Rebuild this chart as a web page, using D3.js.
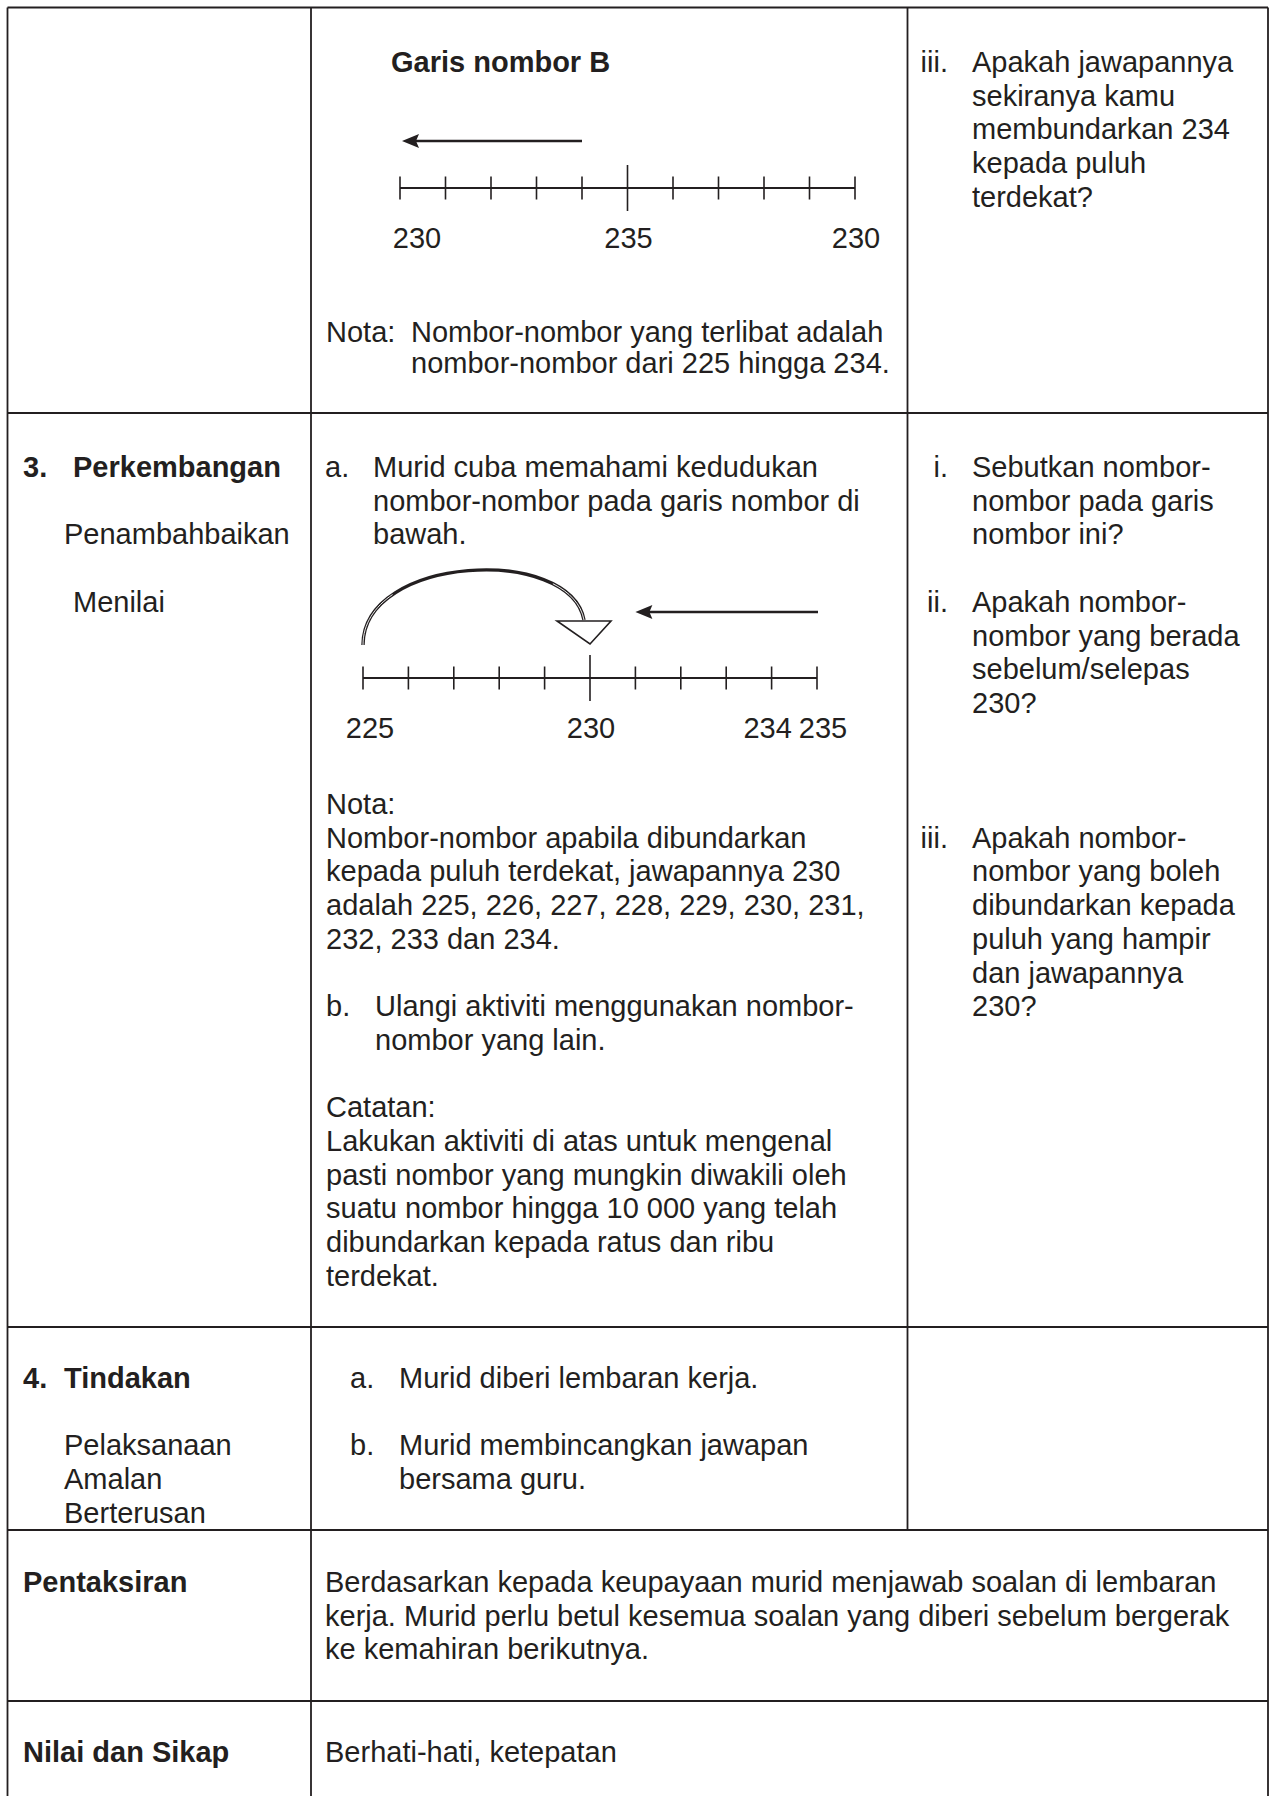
<!DOCTYPE html>
<html>
<head>
<meta charset="utf-8">
<script src="https://cdn.jsdelivr.net/npm/d3@7"></script>
<style>
  html, body { margin: 0; padding: 0; background: #ffffff; }
  svg { display: block; }
</style>
</head>
<body>
<div id="chart"></div>
<script>
// ---------------- DATA ----------------
// Number line B (row 1): 11 positions, labelled 230 / 235 / 230 as in the source
const ticksB = [0, 1, 2, 3, 4, 5, 6, 7, 8, 9, 10];
const majorB = [5];
const labelsB = [{ v: 0, t: "230" }, { v: 5, t: "235" }, { v: 10, t: "230" }];
const arrowB = [4, 0];            // arrow from position 4 to 0

// Number line A (row 3): 225 .. 235
const ticksA = [225, 226, 227, 228, 229, 230, 231, 232, 233, 234, 235];
const majorA = [230];
const labelsA = [{ v: 225, t: "225" }, { v: 230, t: "230" }, { v: 234, t: "234" }, { v: 235, t: "235" }];
const arrowA = [235, 231];        // straight arrow from 235 towards 231
const jumpA = [225, 230];         // curved jump from 225 to 230

// Texts
const r1Title = ["Garis nombor B"];
const r1NotaLabel = "Nota:";
const r1Nota = ["Nombor-nombor yang terlibat adalah", "nombor-nombor dari 225 hingga 234."];
const r1Q = { n: "iii.", lines: ["Apakah jawapannya", "sekiranya kamu", "membundarkan 234", "kepada puluh", "terdekat?"] };

const r3Head = { n: "3.", t: "Perkembangan" };
const r3Sub = ["Penambahbaikan", "Menilai"];
const r3A = { n: "a.", lines: ["Murid cuba memahami kedudukan", "nombor-nombor pada garis nombor di", "bawah."] };
const r3Nota = ["Nota:", "Nombor-nombor apabila dibundarkan", "kepada puluh terdekat, jawapannya 230",
                "adalah 225, 226, 227, 228, 229, 230, 231,", "232, 233 dan 234."];
const r3B = { n: "b.", lines: ["Ulangi aktiviti menggunakan nombor-", "nombor yang lain."] };
const r3Catatan = ["Catatan:", "Lakukan aktiviti di atas untuk mengenal", "pasti nombor yang mungkin diwakili oleh",
                   "suatu nombor hingga 10 000 yang telah", "dibundarkan kepada ratus dan ribu", "terdekat."];
const r3Qs = [
  { n: "i.", lines: ["Sebutkan nombor-", "nombor pada garis", "nombor ini?"] },
  { n: "ii.", lines: ["Apakah nombor-", "nombor yang berada", "sebelum/selepas", "230?"] },
  { n: "iii.", lines: ["Apakah nombor-", "nombor yang boleh", "dibundarkan kepada", "puluh yang hampir", "dan jawapannya", "230?"] }
];

const r4Head = { n: "4.", t: "Tindakan" };
const r4Sub = ["Pelaksanaan", "Amalan", "Berterusan"];
const r4Items = [
  { n: "a.", lines: ["Murid diberi lembaran kerja."] },
  { n: "b.", lines: ["Murid membincangkan jawapan", "bersama guru."] }
];
const r5Head = "Pentaksiran";
const r5Text = ["Berdasarkan kepada keupayaan murid menjawab soalan di lembaran",
                "kerja. Murid perlu betul kesemua soalan yang diberi sebelum bergerak",
                "ke kemahiran berikutnya."];
const r6Head = "Nilai dan Sikap";
const r6Text = ["Berhati-hati, ketepatan"];

// ---------------- LAYOUT ----------------
const W = 1271, H = 1796;
const INK = "#231f20";
const FONT = '"Liberation Sans", Arial, sans-serif';
const FS = 29;
const L = 33.7;

const svg = d3.select("#chart").append("svg")
  .attr("width", W).attr("height", H)
  .attr("viewBox", `0 0 ${W} ${H}`);
svg.append("rect").attr("width", W).attr("height", H).attr("fill", "#fff");

// table grid
const colX = { left: 7.5, c1: 311, c2: 907.5, right: 1268 };
const rowY = [7.5, 413, 1327, 1530, 1701];
const grid = svg.append("g").attr("stroke", INK).attr("fill", "none");
const hLines = rowY.map(y => [colX.left, colX.right, y]);
grid.selectAll("line.h").data(hLines).join("line").attr("class", "h")
  .attr("x1", d => d[0]).attr("x2", d => d[1]).attr("y1", d => d[2]).attr("y2", d => d[2])
  .attr("stroke-width", 2.2);
const vLines = [
  [colX.left, rowY[0], H], [colX.c1, rowY[0], H], [colX.c2, rowY[0], rowY[3]], [colX.right, rowY[0], H]
];
grid.selectAll("line.v").data(vLines).join("line").attr("class", "v")
  .attr("x1", d => d[0]).attr("x2", d => d[0]).attr("y1", d => d[1]).attr("y2", d => d[2])
  .attr("stroke-width", 1.8);

// text helpers
const tg = svg.append("g").attr("font-family", FONT).attr("font-size", FS).attr("fill", INK);
function txt(x, y, t, opt = {}) {
  return tg.append("text").attr("x", x).attr("y", y)
    .attr("font-weight", opt.bold ? "bold" : null)
    .attr("text-anchor", opt.anchor || null)
    .text(t);
}
function block(x, y0, lines, opt = {}, step = L) {
  lines.forEach((t, i) => txt(x, y0 + i * step, t, opt));
}
function item(numX, textX, y0, it, anchorEnd) {
  txt(numX, y0, it.n, { anchor: anchorEnd ? "end" : null });
  block(textX, y0, it.lines);
}

// ---- Row 1 ----
txt(391, 72, r1Title[0], { bold: true });
item(948, 972, 72, r1Q, true);
txt(326, 342, r1NotaLabel);
block(411, 342, r1Nota, {}, 31);

// ---- Row 3 ----
const y3 = 477;
txt(23, y3, r3Head.n, { bold: true });
txt(73, y3, r3Head.t, { bold: true });
txt(64, y3 + 2 * L, r3Sub[0]);
txt(73, y3 + 4 * L, r3Sub[1]);
item(325, 373, y3, r3A, false);
block(326, y3 + 10 * L, r3Nota);
item(326, 375, y3 + 16 * L, r3B, false);
block(326, y3 + 19 * L, r3Catatan);
item(948, 972, y3, r3Qs[0], true);
item(948, 972, y3 + 4 * L, r3Qs[1], true);
item(948, 972, y3 + 11 * L, r3Qs[2], true);

// ---- Row 4 ----
const y4 = 1388;
txt(23, y4, r4Head.n, { bold: true });
txt(64, y4, r4Head.t, { bold: true });
txt(64, y4 + 2 * L, r4Sub[0]);
txt(64, y4 + 3 * L, r4Sub[1]);
txt(64, y4 + 4 * L, r4Sub[2]);
item(350, 399, y4, r4Items[0], false);
item(350, 399, y4 + 2 * L, r4Items[1], false);

// ---- Row 5 / 6 ----
txt(23, 1592, r5Head, { bold: true });
block(325, 1592, r5Text);
txt(23, 1762, r6Head, { bold: true });
block(325, 1762, r6Text);

// ---------------- NUMBER LINES ----------------
function arrowHead(g, tipX, y, dir) {
  const len = 17, half = 7;
  g.append("path")
    .attr("d", `M${tipX},${y} L${tipX - dir * len},${y - half} L${tipX - dir * len + dir * 3},${y} L${tipX - dir * len},${y + half} Z`)
    .attr("fill", INK);
}

function numberLine(g, scale, ticks, majors, labels, yLine, yLabel, firstDx) {
  const dom = scale.domain();
  g.append("line").attr("x1", scale(dom[0])).attr("x2", scale(dom[1]))
    .attr("y1", yLine).attr("y2", yLine).attr("stroke", INK).attr("stroke-width", 2);
  g.selectAll("line.tk").data(ticks).join("line").attr("class", "tk")
    .attr("x1", d => scale(d)).attr("x2", d => scale(d))
    .attr("y1", d => yLine - (majors.includes(d) ? 23 : 11.5))
    .attr("y2", d => yLine + (majors.includes(d) ? 23 : 11.5))
    .attr("stroke", INK).attr("stroke-width", 1.6);
  // labels centred on ticks; adjacent labels nudged apart so they read "234 235"
  const dx = (d, i) => {
    if (i === 0) return firstDx;
    const prev = labels[i - 1], next = labels[i + 1];
    if (next && next.v - d.v <= 1) return -4;
    if (prev && d.v - prev.v <= 1) return 6;
    return 1;
  };
  g.selectAll("text.lb").data(labels).join("text").attr("class", "lb")
    .attr("x", (d, i) => scale(d.v) + dx(d, i))
    .attr("y", yLabel)
    .attr("text-anchor", "middle")
    .attr("font-family", FONT).attr("font-size", FS).attr("fill", INK)
    .text(d => d.t);
}

// Row 1 number line B
const xB = d3.scaleLinear().domain([0, 10]).range([400, 855]);
const gB = svg.append("g");
numberLine(gB, xB, ticksB, majorB, labelsB, 188, 248, 17);
const yArrB = 141;
gB.append("line").attr("x1", xB(arrowB[0])).attr("x2", xB(arrowB[1]) + 10)
  .attr("y1", yArrB).attr("y2", yArrB).attr("stroke", INK).attr("stroke-width", 2.6);
arrowHead(gB, xB(arrowB[1]) + 2, yArrB, -1);

// Row 3 number line A
const xA = d3.scaleLinear().domain([225, 235]).range([363, 817]);
const gA = svg.append("g");
const yLA = 678;
numberLine(gA, xA, ticksA, majorA, labelsA, yLA, 738, 7);
const yArrA = 612;
gA.append("line").attr("x1", xA(arrowA[0]) + 1).attr("x2", xA(arrowA[1]) + 10)
  .attr("y1", yArrA).attr("y2", yArrA).attr("stroke", INK).attr("stroke-width", 2.6);
arrowHead(gA, xA(arrowA[1]), yArrA, -1);

// curved jump 225 -> 230
const x0 = xA(jumpA[0]), x1 = xA(jumpA[1]);
const pathD = d3.path();
pathD.moveTo(x0, yLA - 33);
pathD.bezierCurveTo(x0, yLA - 123, x1 - 20, yLA - 133, x1 - 6, yLA - 58);
const curve = gA.append("path").attr("d", pathD.toString())
  .attr("fill", "none").attr("stroke", INK).attr("stroke-width", 3.4).attr("stroke-linecap", "butt");
const totalLen = curve.node().getTotalLength();
gA.append("path").attr("d", pathD.toString())
  .attr("fill", "none").attr("stroke", "#fff").attr("stroke-width", 0.9)
  .attr("stroke-dasharray", `${totalLen * 0.22} ${totalLen * 0.6} ${totalLen * 0.18}`);
// hollow triangle head pointing down at 230
gA.append("path")
  .attr("d", `M${x1 - 33},${yLA - 57} L${x1 + 21},${yLA - 57} L${x1},${yLA - 34} Z`)
  .attr("fill", "#fff").attr("stroke", INK).attr("stroke-width", 1.6).attr("stroke-linejoin", "miter");
</script>
</body>
</html>
